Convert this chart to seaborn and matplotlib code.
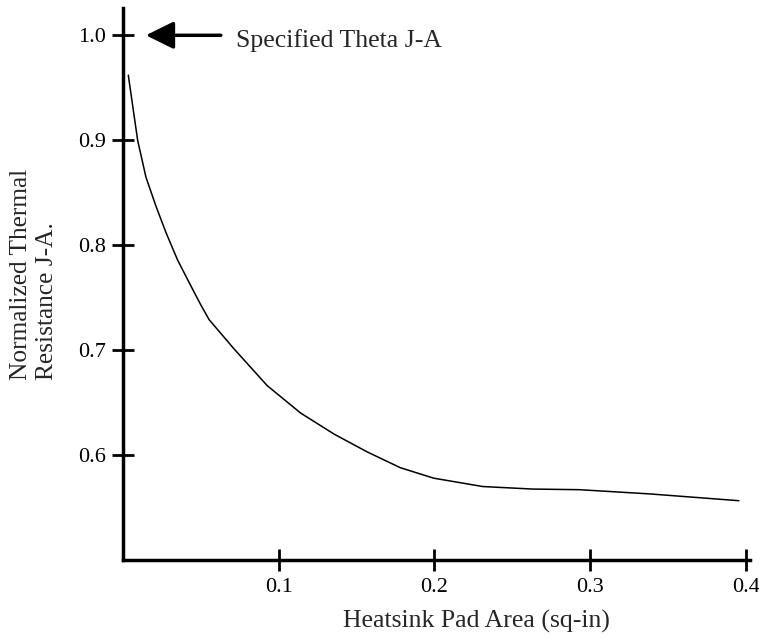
import numpy as np
import pandas as pd
import matplotlib
matplotlib.use('Agg')
import matplotlib.pyplot as plt
import seaborn as sns

# Datos
pad_area = [0.0034, 0.0094, 0.0147, 0.0212, 0.0276, 0.035, 0.0447, 0.05, 0.0553,
            0.0714, 0.0927, 0.1141, 0.1355, 0.1568, 0.178, 0.1994, 0.231, 0.263,
            0.293, 0.338, 0.3955]
resistance = [0.962, 0.900, 0.865, 0.837, 0.812, 0.786, 0.758, 0.743, 0.729,
              0.701, 0.666, 0.640, 0.620, 0.603, 0.588, 0.578, 0.570, 0.5676,
              0.567, 0.563, 0.5565]
x_ticks = [0.1, 0.2, 0.3, 0.4]
y_ticks = [0.6, 0.7, 0.8, 0.9, 1.0]

df = pd.DataFrame({'area': pad_area, 'theta': resistance})

sns.set_style('ticks')
plt.rcParams['font.family'] = ['Liberation Serif', 'DejaVu Serif']

fig = plt.figure(figsize=(7.59, 6.41), dpi=100)
ax = fig.add_axes([123 / 759, 81 / 641, 627 / 759, 552 / 641])

sns.lineplot(x='area', y='theta', data=df, color='black', linewidth=1.1, ax=ax)

ax.set_xlim(0, 0.4026)
ax.set_ylim(0.5, 1.026)
ax.set_xticks(x_ticks)
ax.set_yticks(y_ticks)
ax.set_xticklabels(['0.1', '0.2', '0.3', '0.4'])
ax.set_yticklabels(['0.6', '0.7', '0.8', '0.9', '1.0'])
ax.tick_params(direction='inout', length=16, width=2, labelsize=16, colors='black')
ax.tick_params(axis='x', pad=5)
ax.tick_params(axis='y', pad=4)

sns.despine(ax=ax)
ax.spines['left'].set_linewidth(2.5)
ax.spines['bottom'].set_linewidth(2.5)
ax.spines['left'].set_color('black')
ax.spines['bottom'].set_color('black')

ax.set_xlabel('Heatsink Pad Area (sq-in)', fontsize=18.5)
ax.xaxis.set_label_coords(0.563, -0.09)
ax.set_ylabel('Normalized Thermal\nResistance J-A.', fontsize=18.3,
              linespacing=1.25, multialignment='left')
ax.yaxis.set_label_coords(-0.104, 0.518)

# Flecha con el valor especificado
ax.annotate('', xy=(0.0147, 1.0), xytext=(0.0628, 1.0),
            arrowprops=dict(arrowstyle='-|>,head_length=0.85,head_width=0.42',
                            color='black', lw=2.5, mutation_scale=20,
                            shrinkA=0, shrinkB=0))
ax.text(0.0724, 0.9886, 'Specified Theta J-A', fontsize=18.5, va='baseline', ha='left')

plt.savefig('out.png', dpi=100)
